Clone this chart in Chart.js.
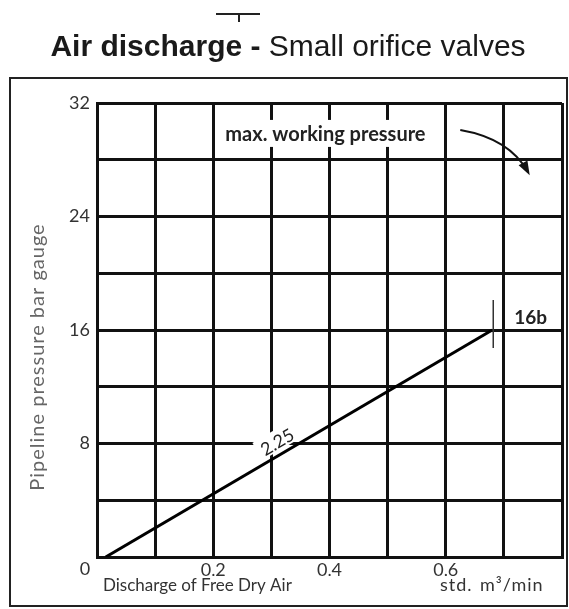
<!DOCTYPE html>
<html>
<head>
<meta charset="utf-8">
<script src="https://cdn.jsdelivr.net/npm/chart.js@4.4.1/dist/chart.umd.min.js"></script>
<style>
  body { margin: 0; background: #fff; }
  canvas { display: block; }
</style>
</head>
<body>
<canvas id="myChart" width="569" height="609"></canvas>
<script>
// data
const lineX = [0.015, 0.68];          // discharge, std. m3/min
const lineY = [0, 16];                // pipeline pressure, bar
const xTickLabels = {2: '0.2', 4: '0.4', 6: '0.6'};   // tick index -> label
const yTickLabels = [8, 16, 24, 32];
const curveLabel = '2.25';
const endLabel = '16b';

const FONT = 'Lato, "DejaVu Sans", sans-serif';

function px(chart, x, y) {
    return [chart.scales.x.getPixelForValue(x), chart.scales.y.getPixelForValue(y)];
}

const decor = {
    id: 'decor',
    beforeDraw(chart) {
        const ctx = chart.ctx;
        ctx.save();
        ctx.fillStyle = '#fff';
        ctx.fillRect(0, 0, chart.width, chart.height);
        // outer frame
        ctx.strokeStyle = '#222';
        ctx.lineWidth = 2;
        ctx.strokeRect(10, 78, 557, 528);
        // little mark above title
        ctx.lineWidth = 2;
        ctx.beginPath();
        ctx.moveTo(216, 14); ctx.lineTo(260, 14);
        ctx.moveTo(239, 14); ctx.lineTo(239, 22);
        ctx.stroke();
        // title
        ctx.fillStyle = '#1a1a1a';
        ctx.textBaseline = 'alphabetic';
        const bold = 'bold 30px "Liberation Sans", Arial, sans-serif';
        const reg = '30px "Liberation Sans", Arial, sans-serif';
        const t1 = 'Air discharge - ', t2 = 'Small orifice valves';
        ctx.font = bold; const w1 = ctx.measureText(t1).width;
        ctx.font = reg; const w2 = ctx.measureText(t2).width;
        let x0 = 288 - (w1 + w2) / 2;
        ctx.font = bold; ctx.fillText(t1, x0, 56);
        ctx.font = reg; ctx.fillText(t2, x0 + w1, 56);
        ctx.restore();
    },
    beforeDatasetsDraw(chart) {
        const ctx = chart.ctx;
        ctx.save();
        ctx.fillStyle = '#fff';
        // box behind "max. working pressure"
        const [bx, by] = px(chart, 0.393, 29.75);
        ctx.fillRect(bx - 110, by - 15, 220, 27);
        // box behind curve label
        const [ax, ay] = px(chart, lineX[0], lineY[0]);
        const [ex, ey] = px(chart, lineX[1], lineY[1]);
        const ang = Math.atan2(ey - ay, ex - ax);
        const t = 0.46;
        ctx.translate(ax + (ex - ax) * t, ay + (ey - ay) * t);
        ctx.rotate(ang);
        ctx.fillRect(-22, -24, 44, 20);
        ctx.restore();
    },
    afterDraw(chart) {
        const ctx = chart.ctx;
        const xs = chart.scales.x, ys = chart.scales.y;
        ctx.save();
        // corner zero
        ctx.fillStyle = '#333';
        ctx.font = '18px ' + FONT;
        ctx.textAlign = 'center';
        ctx.textBaseline = 'middle';
        ctx.fillText('0', xs.left - 12, ys.bottom + 12);
        // axis titles
        ctx.textAlign = 'left';
        ctx.textBaseline = 'alphabetic';
        ctx.font = '17px ' + FONT;
        ctx.fillText('Discharge of Free Dry Air', 103, 591);
        ctx.save();
        ctx.font = '18px ' + FONT;
        ctx.letterSpacing = '1px';
        ctx.fillText('std.', 440, 591);
        ctx.fillText('m\u00B3/min', 480, 591);
        ctx.restore();
        ctx.save();
        ctx.fillStyle = '#666';
        ctx.translate(44, 357);
        ctx.rotate(-Math.PI / 2);
        ctx.textAlign = 'center';
        ctx.font = '20px ' + FONT;
        ctx.letterSpacing = '1px';
        ctx.fillText('Pipeline pressure bar gauge', 0, 0);
        ctx.restore();
        // max working pressure
        ctx.fillStyle = '#222';
        ctx.font = 'bold 20px ' + FONT;
        ctx.textAlign = 'center';
        ctx.textBaseline = 'middle';
        const [mx, my] = px(chart, 0.393, 29.75);
        ctx.fillText('max. working pressure', mx, my);
        // arrow
        const [s0x, s0y] = px(chart, 0.625, 30.1);
        const [c0x, c0y] = px(chart, 0.71, 29.5);
        const [e0x, e0y] = px(chart, 0.742, 27.1);
        ctx.strokeStyle = '#111';
        ctx.lineWidth = 2;
        ctx.beginPath();
        ctx.moveTo(s0x, s0y);
        ctx.quadraticCurveTo(c0x, c0y, e0x, e0y);
        ctx.stroke();
        const a = Math.atan2(e0y - c0y, e0x - c0x);
        ctx.fillStyle = '#111';
        ctx.beginPath();
        ctx.moveTo(e0x + 3 * Math.cos(a), e0y + 3 * Math.sin(a));
        ctx.lineTo(e0x - 11 * Math.cos(a) + 5 * Math.sin(a), e0y - 11 * Math.sin(a) - 5 * Math.cos(a));
        ctx.lineTo(e0x - 11 * Math.cos(a) - 5 * Math.sin(a), e0y - 11 * Math.sin(a) + 5 * Math.cos(a));
        ctx.closePath();
        ctx.fill();
        // curve label
        const [ax, ay] = px(chart, lineX[0], lineY[0]);
        const [ex, ey] = px(chart, lineX[1], lineY[1]);
        const ang = Math.atan2(ey - ay, ex - ax);
        const t = 0.46;
        ctx.save();
        ctx.translate(ax + (ex - ax) * t, ay + (ey - ay) * t);
        ctx.rotate(ang);
        ctx.fillStyle = '#222';
        ctx.font = '18px ' + FONT;
        ctx.textAlign = 'center';
        ctx.textBaseline = 'alphabetic';
        ctx.fillText(curveLabel, 0, -6);
        ctx.restore();
        // end tick + label
        ctx.strokeStyle = '#333';
        ctx.lineWidth = 1.5;
        ctx.beginPath();
        ctx.moveTo(ex + 1, ey - 30);
        ctx.lineTo(ex + 1, ey + 18);
        ctx.stroke();
        ctx.fillStyle = '#222';
        ctx.font = 'bold 19px ' + FONT;
        ctx.textAlign = 'left';
        ctx.textBaseline = 'middle';
        ctx.fillText(endLabel, ex + 22, ey - 12);
        ctx.restore();
    }
};

const data = {
    datasets: [{
        data: lineX.map((x, i) => ({x: x, y: lineY[i]})),
        showLine: true,
        borderColor: '#000',
        borderWidth: 3,
        pointRadius: 0,
        fill: false
    }]
};

const config = {
    type: 'scatter',
    data: data,
    options: {
        responsive: false,
        animation: false,
        devicePixelRatio: 1,
        layout: {
            padding: {top: 103, right: 7, left: 0, bottom: 0}
        },
        plugins: {
            legend: {display: false},
            tooltip: {enabled: false},
            title: {display: false}
        },
        scales: {
            x: {
                type: 'linear',
                min: 0,
                max: 0.8,
                afterFit: function (scale) { scale.height = 52; },
                grid: {color: '#111', lineWidth: 3, drawTicks: false},
                border: {color: '#111', width: 3},
                ticks: {
                    stepSize: 0.1,
                    autoSkip: false,
                    maxRotation: 0,
                    padding: 2,
                    color: '#333',
                    font: {family: FONT, size: 18},
                    callback: function (value, index) { return xTickLabels[index] || ''; }
                }
            },
            y: {
                type: 'linear',
                min: 0,
                max: 32,
                afterFit: function (scale) { scale.width = 97; },
                grid: {color: '#111', lineWidth: 3, drawTicks: false},
                border: {color: '#111', width: 3},
                ticks: {
                    stepSize: 4,
                    padding: 7,
                    color: '#333',
                    font: {family: FONT, size: 18},
                    callback: function (value) { return yTickLabels.includes(value) ? value : ''; }
                }
            }
        }
    },
    plugins: [decor]
};

var myChart = new Chart(document.getElementById('myChart'), config);
</script>
</body>
</html>
